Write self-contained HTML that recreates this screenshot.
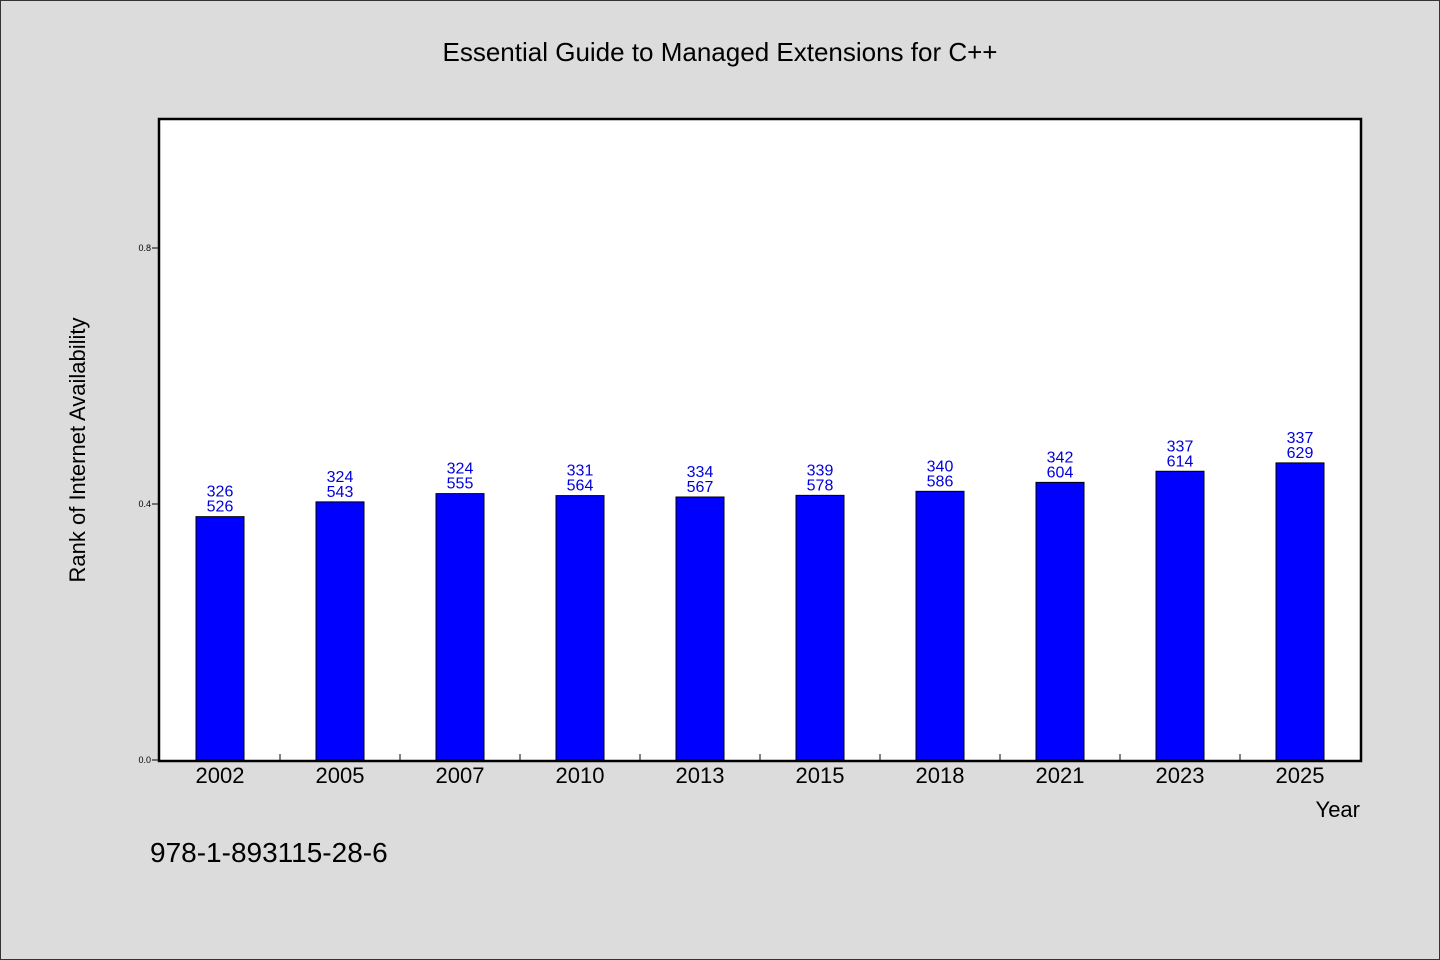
<!DOCTYPE html>
<html><head><meta charset="utf-8"><style>
html,body{margin:0;padding:0;background:#dcdcdc;}
svg{display:block;font-family:"WenQuanYi Zen Hei","Liberation Sans",sans-serif;}
</style></head><body>
<svg width="1440" height="960" viewBox="0 0 1440 960">
<rect x="0.5" y="0.5" width="1439" height="959" fill="#dcdcdc" stroke="#333"/>
<text x="720" y="61" text-anchor="middle" font-size="26" fill="#000">Essential Guide to Managed Extensions for C++</text>
<rect x="159" y="119" width="1202" height="642" fill="#fff" stroke="#000" stroke-width="2.5"/>
<g id="bars"></g>
<g id="axes"></g>
<text transform="translate(85,450) rotate(-90)" text-anchor="middle" font-size="22" fill="#000">Rank of Internet Availability</text>
<text x="1360" y="817" text-anchor="end" font-size="22" fill="#000">Year</text>
<text x="150" y="862" font-size="28" fill="#000">978-1-893115-28-6</text>
</svg>
<script>
const categories=["2002","2005","2007","2010","2013","2015","2018","2021","2023","2025"];
const numerators=[326,324,324,331,334,339,340,342,337,337];
const denominators=[526,543,555,564,567,578,586,604,614,629];
const yTicks=[0,0.4,0.8];
const yTickLabels=["0.0","0.4","0.8"];
const NS="http://www.w3.org/2000/svg";
const x0=160,band=120,bw=48,yBase=760,yScale=640;
const yPos=v=>yBase-v*yScale;
const xCenter=i=>x0+band*i+band/2;
const bars=document.getElementById('bars'),axes=document.getElementById('axes');
function mk(t,a,p){const e=document.createElementNS(NS,t);for(const k in a)e.setAttribute(k,a[k]);p.appendChild(e);return e;}
categories.forEach((c,i)=>{
  const v=1-numerators[i]/denominators[i];
  const cx=xCenter(i),top=yPos(v);
  const r=mk('rect',{x:cx-bw/2,y:top,width:bw,height:yBase-top,fill:'#0000ff',stroke:'#000','stroke-width':1},bars);
  
  
  const t1=mk('text',{x:cx,y:top-20,'text-anchor':'middle','font-size':16,fill:'#0000dd'},bars);
  t1.textContent=numerators[i];
  
  
  const t2=mk('text',{x:cx,y:top-5,'text-anchor':'middle','font-size':16,fill:'#0000dd'},bars);
  t2.textContent=denominators[i];
  
  
  const xl=mk('text',{x:cx,y:783,'text-anchor':'middle','font-size':22,fill:'#000'},axes);
  xl.textContent=c;
  
  
  if(i>0){const tk=mk('line',{x1:x0+band*i,x2:x0+band*i,y1:760,y2:754,stroke:'#000'},axes);
  
  }
});
yTicks.forEach((v,i)=>{
  const y=yPos(v);
  const tk=mk('line',{x1:152,x2:159,y1:y,y2:y,stroke:'#000'},axes);
  
  
  const tl=mk('text',{x:151,y:y+3,'text-anchor':'end','font-size':9,fill:'#000'},axes);
  tl.textContent=yTickLabels[i];
  
  
});
</script>
</body></html>
